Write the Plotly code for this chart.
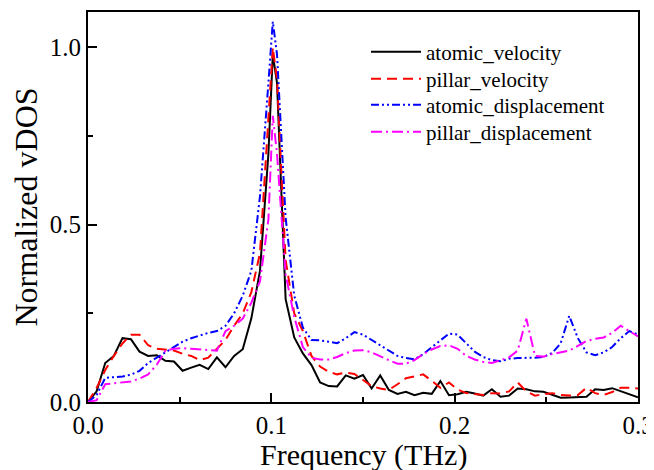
import plotly.graph_objects as go

# Frequency grid (THz) (extra point at the main peak)
freq = [0.0, 0.0047, 0.0094, 0.0141, 0.0188, 0.0234, 0.0281, 0.0328, 0.0375, 0.0422,
        0.0469, 0.0516, 0.0563, 0.0609, 0.0656, 0.0703, 0.075, 0.0797, 0.0844, 0.0891,
        0.0938, 0.0984, 0.1008, 0.1031, 0.1078, 0.1125, 0.1172, 0.1219, 0.1266, 0.1313,
        0.1359, 0.1406, 0.1453, 0.15, 0.1547, 0.1594, 0.1641, 0.1688, 0.1734, 0.1781,
        0.1828, 0.1875, 0.1922, 0.1969, 0.2016, 0.2063, 0.2109, 0.2156, 0.2203, 0.225,
        0.2297, 0.2344, 0.2391, 0.2438, 0.2484, 0.2531, 0.2578, 0.2625, 0.2672, 0.2719,
        0.2766, 0.2813, 0.2859, 0.2906, 0.2953, 0.3]

atomic_velocity = [0.0, 0.03, 0.11, 0.13, 0.18, 0.177, 0.142, 0.13, 0.132, 0.116,
                   0.114, 0.088, 0.097, 0.105, 0.093, 0.126, 0.098, 0.13, 0.149, 0.236,
                   0.37, 0.70, 0.98, 0.90, 0.29, 0.182, 0.137, 0.104, 0.055, 0.045,
                   0.044, 0.075, 0.066, 0.076, 0.038, 0.075, 0.034, 0.023, 0.029, 0.019,
                   0.026, 0.023, 0.059, 0.019, 0.022, 0.029, 0.024, 0.018, 0.036, 0.015,
                   0.018, 0.038, 0.036, 0.03, 0.029, 0.02, 0.012, 0.013, 0.013, 0.015,
                   0.036, 0.034, 0.039, 0.03, 0.02, 0.013]

pillar_velocity = [0.0, 0.04, 0.09, 0.13, 0.165, 0.19, 0.19, 0.16, 0.15, 0.148,
                   0.145, 0.136, 0.13, 0.118, 0.125, 0.15, 0.175, 0.215, 0.25, 0.31,
                   0.42, 0.80, 1.0, 0.91, 0.40, 0.25, 0.2, 0.13, 0.10, 0.085,
                   0.078, 0.083, 0.079, 0.062, 0.045, 0.038, 0.034, 0.05, 0.067, 0.072,
                   0.078, 0.06, 0.04, 0.055, 0.035, 0.025, 0.023, 0.02, 0.025, 0.024,
                   0.03, 0.055, 0.03, 0.018, 0.022, 0.025, 0.02, 0.018, 0.02, 0.04,
                   0.025, 0.02, 0.028, 0.04, 0.04, 0.038]

atomic_displacement = [0.0, 0.02, 0.068, 0.07, 0.072, 0.077, 0.088, 0.11, 0.125, 0.14,
                       0.155, 0.17, 0.18, 0.188, 0.195, 0.2, 0.215, 0.25, 0.30, 0.37,
                       0.58, 0.90, 1.073, 0.98, 0.52, 0.30, 0.21, 0.175, 0.174, 0.17,
                       0.166, 0.18, 0.197, 0.19, 0.175, 0.16, 0.145, 0.13, 0.124, 0.12,
                       0.135, 0.155, 0.175, 0.193, 0.19, 0.165, 0.142, 0.127, 0.118, 0.115,
                       0.122, 0.124, 0.124, 0.125, 0.127, 0.138, 0.165, 0.243, 0.18, 0.14,
                       0.132, 0.14, 0.155, 0.18, 0.2, 0.19]

pillar_displacement = [0.0, 0.005, 0.05, 0.053, 0.055, 0.058, 0.066, 0.078, 0.105, 0.145,
                       0.15, 0.152, 0.15, 0.148, 0.147, 0.145, 0.2, 0.215, 0.235, 0.28,
                       0.34, 0.515, 0.807, 0.70, 0.36, 0.24, 0.155, 0.125, 0.12, 0.12,
                       0.127, 0.138, 0.145, 0.146, 0.14, 0.128, 0.118, 0.108, 0.108, 0.118,
                       0.135, 0.148, 0.158, 0.16, 0.15, 0.13, 0.12, 0.113, 0.11, 0.118,
                       0.126, 0.145, 0.235, 0.13, 0.128, 0.135, 0.14, 0.145, 0.158, 0.172,
                       0.178, 0.182, 0.195, 0.215, 0.2, 0.185]

x_ticks = [0.0, 0.1, 0.2, 0.3]
x_ticklabels = ["0.0", "0.1", "0.2", "0.3"]
y_ticks = [0.0, 0.5, 1.0]
y_ticklabels = ["0.0", "0.5", "1.0"]
x_title = "Frequency (THz)"
y_title = "Normalized vDOS"

series = [
    ("atomic_velocity", atomic_velocity, "#000000", "solid"),
    ("pillar_velocity", pillar_velocity, "#FF0000", "10px,6px"),
    ("atomic_displacement", atomic_displacement, "#0000FF", "8px,3px,2px,3px,2px,3px"),
    ("pillar_displacement", pillar_displacement, "#FF00FF", "11px,4px,2px,4px"),
]

FONT = "Liberation Serif, Times New Roman, serif"
W, H = 654, 470
OFF = 8  # the page body margin shifts the figure by 8 px
M_L, M_R, M_T, M_B = 88 - OFF, 16 + OFF, 12 - OFF, 68 + OFF
PLOT_W = W - M_L - M_R
PLOT_H = H - M_T - M_B
legend_rows_px = [52, 79, 105, 132]  # row centres (page px from top)
legend_left_px = 366                 # legend box left edge (page px)
x_title_center_px = 455              # x-axis title centre (page px from top)

fig = go.Figure()
legend_names = ["legend", "legend2", "legend3", "legend4"]
for (name, vals, color, dash), lg in zip(series, legend_names):
    fig.add_trace(go.Scatter(x=freq, y=vals, mode="lines", name=name, legend=lg,
                             line=dict(color=color, width=2, dash=dash)))

layout_legends = {}
for lg, ypx in zip(legend_names, legend_rows_px):
    layout_legends[lg] = dict(
        x=(legend_left_px - OFF - M_L) / PLOT_W,
        y=(H - M_B - (ypx - OFF)) / PLOT_H, xanchor="left", yanchor="middle",
        bgcolor="rgba(0,0,0,0)", borderwidth=0,
        font=dict(family=FONT, size=21, color="black"), itemwidth=50)

fig.update_layout(
    width=W, height=H,
    margin=dict(l=M_L, r=M_R, t=M_T, b=M_B, autoexpand=False),
    paper_bgcolor="white", plot_bgcolor="white",
    font=dict(family=FONT, color="black"),
    showlegend=True,
    **layout_legends,
)
fig.add_annotation(
    text=x_title, xref="paper", yref="paper", x=0.5,
    y=(H - M_B - (x_title_center_px - OFF)) / PLOT_H,
    xanchor="center", yanchor="middle", showarrow=False, borderpad=0,
    font=dict(family=FONT, size=30, color="black"),
)
fig.update_xaxes(
    range=[0, 0.3], showgrid=False, zeroline=False, automargin=False,
    showline=True, linecolor="black", linewidth=2, mirror=True,
    ticks="inside", ticklen=9, tickwidth=1.5, tickcolor="black",
    tickvals=x_ticks, ticktext=x_ticklabels,
    tickfont=dict(family=FONT, size=25, color="black"),
    minor=dict(tickvals=[0.05, 0.15, 0.25], ticks="inside", ticklen=5, tickwidth=1.5, tickcolor="black"),
)
fig.update_yaxes(
    range=[0, 1.1], showgrid=False, zeroline=False, automargin=False,
    showline=True, linecolor="black", linewidth=2, mirror=True,
    ticks="inside", ticklen=9, tickwidth=1.5, tickcolor="black",
    tickvals=y_ticks, ticktext=y_ticklabels,
    tickfont=dict(family=FONT, size=25, color="black"),
    minor=dict(tickvals=[0.25, 0.75], ticks="inside", ticklen=5, tickwidth=1.5, tickcolor="black"),
    title=dict(text=y_title, font=dict(family=FONT, size=32, color="black"), standoff=8),
)

fig.write_html("out.html")
